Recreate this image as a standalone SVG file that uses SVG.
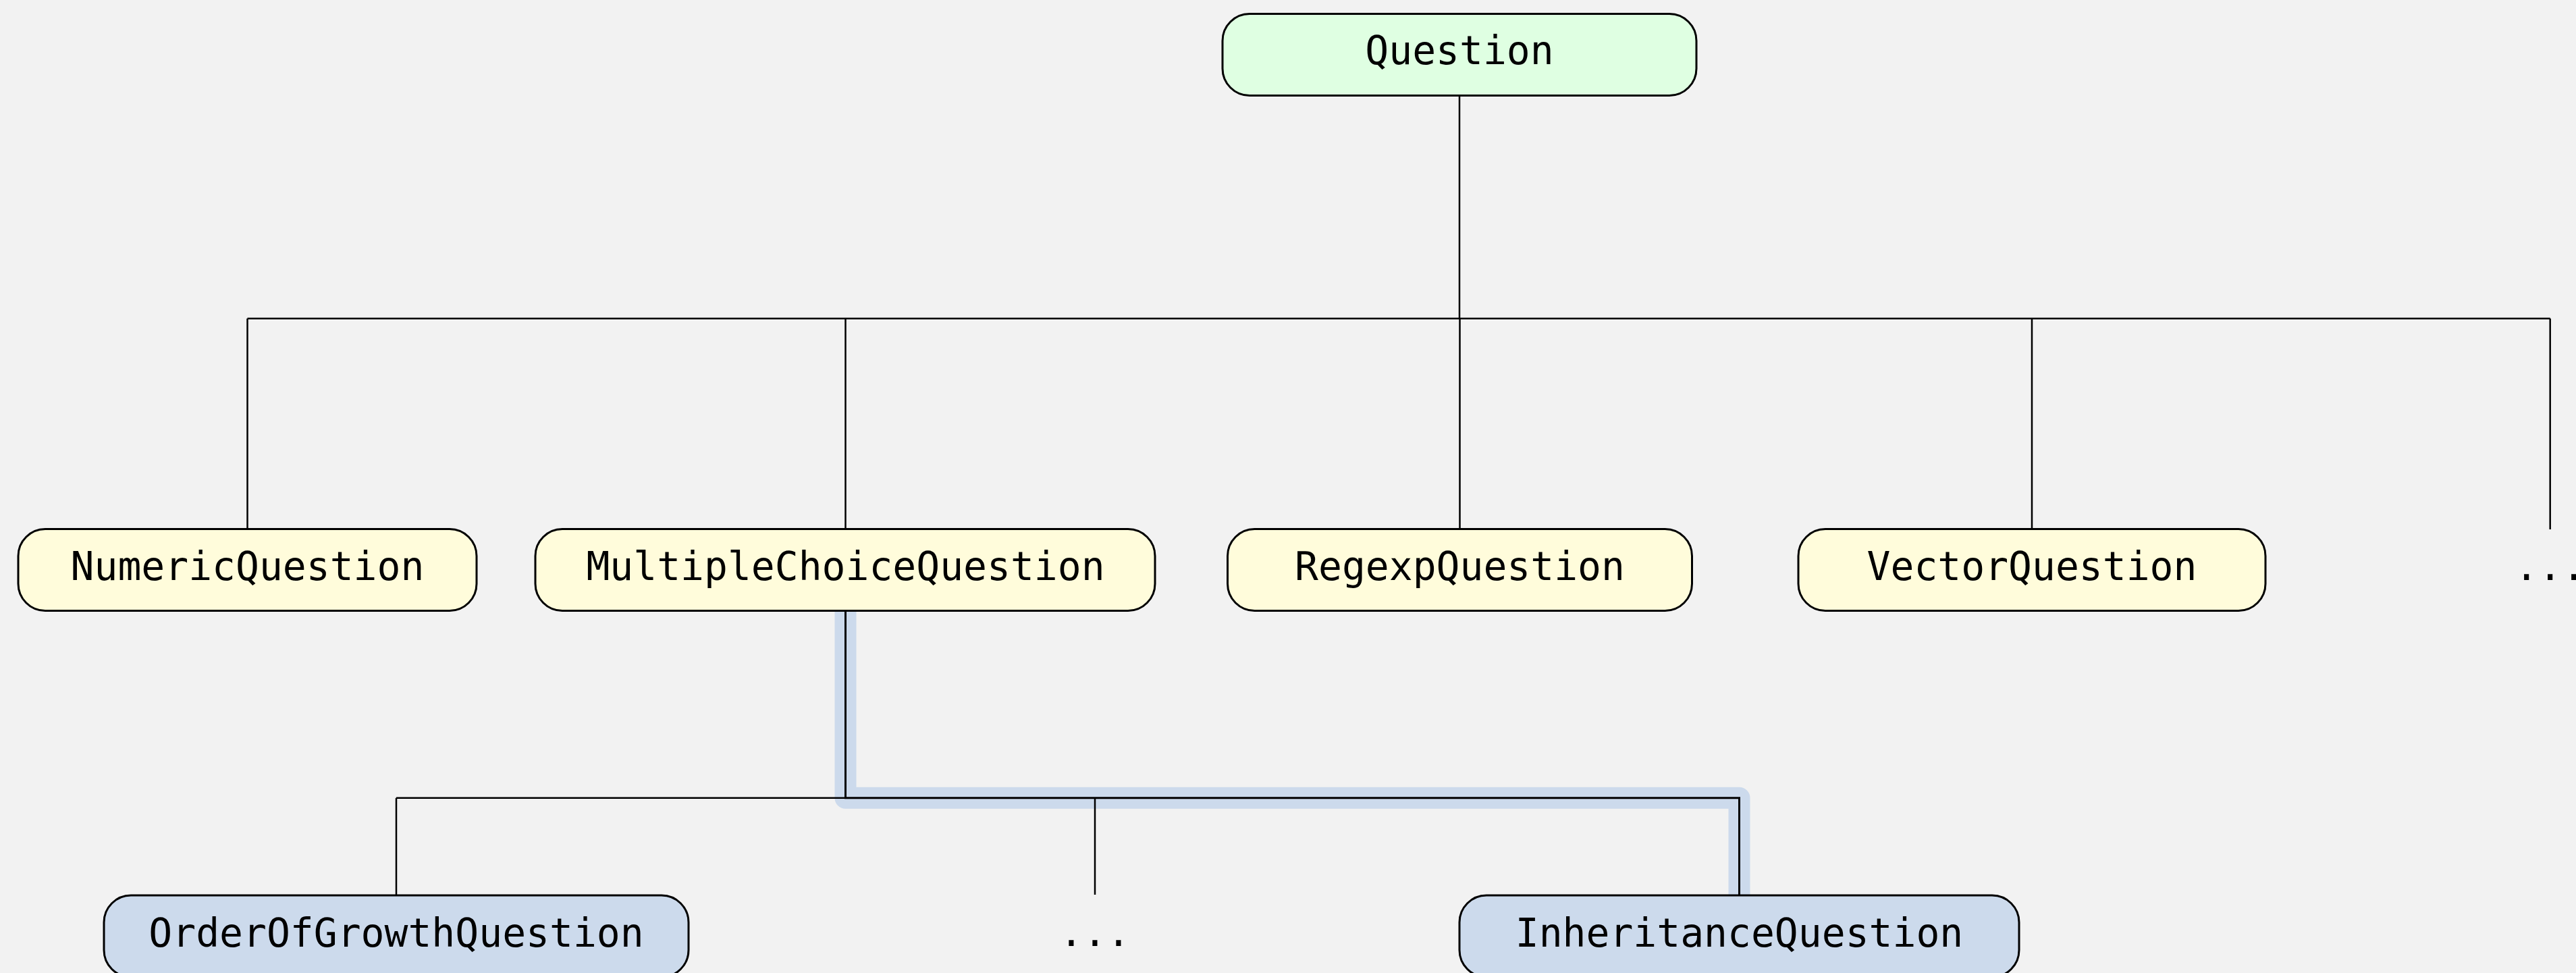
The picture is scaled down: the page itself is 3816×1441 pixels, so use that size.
<svg xmlns="http://www.w3.org/2000/svg" width="3816" height="1441" viewBox="0 0 3816 1441">
  <style>
    .box { stroke: #000; stroke-width: 3; }
    .root { fill: #dfffe2; }
    .mid { fill: #fffcdb; }
    .leaf { fill: #ccdaec; }
    .lbl { font-family: "DejaVu Sans Mono", "Liberation Mono", monospace; font-size: 58px; fill: #000; text-anchor: middle; }
    .ln { fill: none; stroke: #000; stroke-width: 2.5; }
    .hl { fill: none; stroke: #ccdaec; stroke-width: 32; stroke-linejoin: round; stroke-linecap: butt; }
    .hlln { fill: none; stroke: #000; stroke-width: 3; }
  </style>
  <rect x="0" y="0" width="3816" height="1441" fill="#f2f2f2"/>

  <g id="connectors">
    <path class="hl" d="M1252.5,904 V1181.7 H2576.5 V1326"/>
    <path class="ln" d="M2162,141 V471.7"/>
    <path class="ln" d="M366.5,471.7 H3777.7"/>
    <path class="ln" d="M366.5,471.7 V783.5"/>
    <path class="ln" d="M1252.5,471.7 V783.5"/>
    <path class="ln" d="M2162.5,471.7 V783.5"/>
    <path class="ln" d="M3010,471.7 V783.5"/>
    <path class="ln" d="M3777.7,471.7 V784"/>
    <path class="ln" d="M587,1181.7 H1252.5"/>
    <path class="ln" d="M587,1181.7 V1326"/>
    <path class="ln" d="M1622,1181.7 V1325"/>
    <path class="hlln" d="M1252.5,904 V1181.7 H2576.5 V1326"/>
  </g>

  <g id="node-question">
    <rect class="box root" x="1811" y="20.5" width="702" height="121" rx="40" ry="40"/>
    <text class="lbl" x="2162" y="95">Question</text>
  </g>

  <g id="node-numeric">
    <rect class="box mid" x="27" y="783.5" width="679" height="121" rx="40" ry="40"/>
    <text class="lbl" x="366.5" y="859">NumericQuestion</text>
  </g>

  <g id="node-multiplechoice">
    <rect class="box mid" x="793" y="783.5" width="918" height="121" rx="40" ry="40"/>
    <text class="lbl" x="1252.5" y="859">MultipleChoiceQuestion</text>
  </g>

  <g id="node-regexp">
    <rect class="box mid" x="1818.5" y="783.5" width="688" height="121" rx="40" ry="40"/>
    <text class="lbl" x="2162.5" y="859">RegexpQuestion</text>
  </g>

  <g id="node-vector">
    <rect class="box mid" x="2664" y="783.5" width="692" height="121" rx="40" ry="40"/>
    <text class="lbl" x="3010" y="859">VectorQuestion</text>
  </g>

  <g id="node-more-top">
    <text class="lbl" x="3777.7" y="859">...</text>
  </g>

  <g id="node-orderofgrowth">
    <rect class="box leaf" x="154" y="1326" width="866" height="121" rx="40" ry="40"/>
    <text class="lbl" x="587" y="1401.5">OrderOfGrowthQuestion</text>
  </g>

  <g id="node-more-bottom">
    <text class="lbl" x="1622" y="1401">...</text>
  </g>

  <g id="node-inheritance">
    <rect class="box leaf" x="2162" y="1326" width="829" height="121" rx="40" ry="40"/>
    <text class="lbl" x="2576.5" y="1401.5">InheritanceQuestion</text>
  </g>
</svg>
